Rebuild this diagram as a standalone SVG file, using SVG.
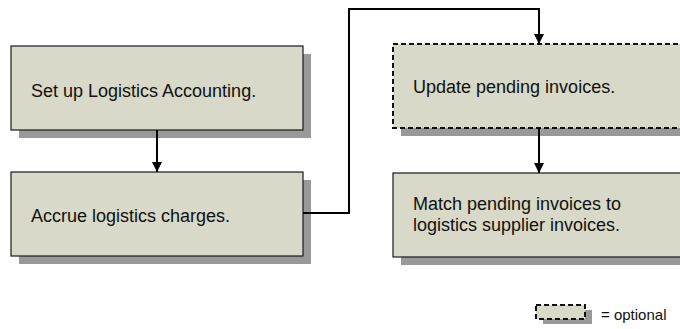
<svg xmlns="http://www.w3.org/2000/svg" width="680" height="329" viewBox="0 0 680 329">
<style>
.shadow{fill:#999999;stroke:none}
.box{fill:#d8d9c8;stroke:#1a1a1a;stroke-width:1.2}
.opt{fill:#d8d9c8;stroke:#111;stroke-width:2;stroke-dasharray:5,3}
.lbl{font-family:"Liberation Sans",Arial,sans-serif;font-size:18px;fill:#111}
.leg{font-family:"Liberation Sans",Arial,sans-serif;font-size:15px;fill:#111}
.con{fill:none;stroke:#000;stroke-width:2}
</style>
<defs>
<marker id="ah" viewBox="0 0 10 10" refX="10" refY="5" markerWidth="5" markerHeight="5" orient="auto" markerUnits="strokeWidth">
<path d="M0,0 L10,5 L0,10 z" fill="#000"/>
</marker>
</defs>
<g id="node1">
<rect class="shadow" x="19" y="54" width="292" height="84"/>
<rect class="box" x="11" y="46" width="292" height="84"/>
<text class="lbl" x="31" y="97">Set up Logistics Accounting.</text>
</g>
<g id="node2">
<rect class="shadow" x="19" y="180" width="292" height="84"/>
<rect class="box" x="11" y="172" width="292" height="84"/>
<text class="lbl" x="31" y="222">Accrue logistics charges.</text>
</g>
<g id="node3">
<rect class="shadow" x="401" y="52" width="292" height="84"/>
<rect class="opt" x="393" y="44" width="292" height="84"/>
<text class="lbl" x="413" y="93">Update pending invoices.</text>
</g>
<g id="node4">
<rect class="shadow" x="401" y="181" width="292" height="84"/>
<rect class="box" x="393" y="173" width="292" height="84"/>
<text class="lbl" x="413" y="210">Match pending invoices to</text>
<text class="lbl" x="413" y="231">logistics supplier invoices.</text>
</g>
<g id="legend">
<rect class="shadow" x="543" y="310" width="49" height="14"/>
<rect class="opt" x="536" y="305" width="49" height="14"/>
<text class="leg" x="601" y="320">= optional</text>
</g>
<g id="connectors">
<path class="con" d="M157,130 L157,172" marker-end="url(#ah)"/>
<path class="con" d="M303,213 L349,213 L349,9 L539,9 L539,44" marker-end="url(#ah)"/>
<path class="con" d="M539,128 L539,173" marker-end="url(#ah)"/>
</g>
</svg>
